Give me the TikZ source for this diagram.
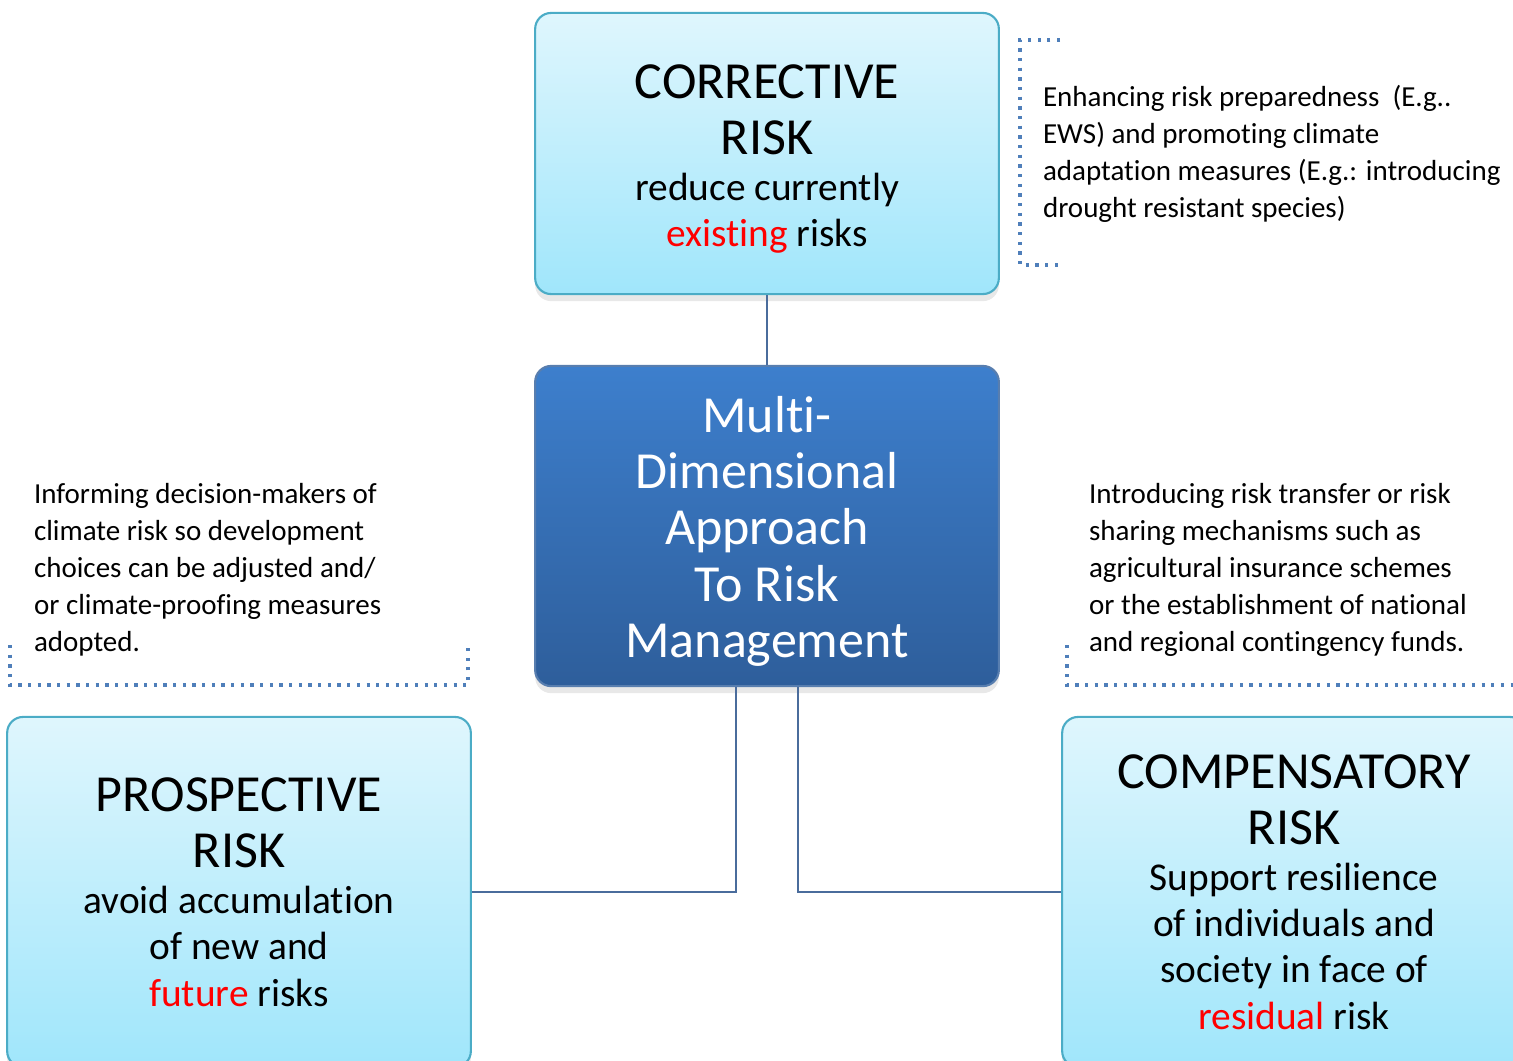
\documentclass[tikz,border=0pt]{standalone}
\usepackage{fontspec}
\setmainfont{Carlito}[Ligatures=NoCommon,Contextuals=NoAlternate,RawFeature={-liga;-clig}]
\usetikzlibrary{shadows}

\definecolor{paleCyan}{HTML}{DFF6FD}
\definecolor{skyCyan}{HTML}{A0E6FB}
\definecolor{edgeCyan}{HTML}{4BACC6}
\definecolor{topBlue}{HTML}{3D7FCD}
\definecolor{bottomBlue}{HTML}{2E5E9B}
\definecolor{linkBlue}{HTML}{4A6C9C}
\definecolor{dotBlue}{HTML}{4F7FBA}

\begin{document}
\begin{tikzpicture}[
                x=.01cm, y=-.01cm,
                line width=.6pt,
                riskbox/.style={draw=edgeCyan,top color=paleCyan,bottom color=skyCyan,rounded corners=.16cm,
                                minimum width=4.56cm,text width=4.4cm,align=flush center,text=black,
                                font=\fontsize{14.8}{16}\selectfont,
                                drop shadow={shadow xshift=0pt,shadow yshift=-2pt,opacity=.18}},
                hubbox/.style={draw=bottomBlue!80,top color=topBlue,bottom color=bottomBlue,rounded corners=.16cm,
                                minimum width=4.6cm,minimum height=3.2cm,text width=4.4cm,align=flush center,text=white,
                                font=\fontsize{14.8}{16}\selectfont,
                                drop shadow={shadow xshift=0pt,shadow yshift=-2pt,opacity=.18}},
                note/.style={align=left,inner sep=0pt,anchor=west,text=black,font=\fontsize{8.25}{10.5}\selectfont},
                link/.style={draw=linkBlue,line width=.6pt},
                dots/.style={draw=dotBlue,line width=.9pt,dash pattern=on .9pt off 1.85pt}]

\useasboundingbox (0,0) rectangle (1513,1060);
\clip (0,0) rectangle (1513,1060);

                    % corrective (top)
                    \node[riskbox,minimum height=2.81cm] (Corrective) at (767,153.5) {CORRECTIVE\\RISK\par
                    {\fontsize{11.2}{13.1}\selectfont reduce currently\\\textcolor{red}{existing} risks\par}\vspace{-3pt}};

                    % center
                    \node[hubbox] (Approach) at (767,526) {Multi-\\Dimensional\\Approach\\To Risk\\Management\par\vspace{-3pt}};

                    % prospective (left)
                    \node[riskbox,minimum height=3.5cm] (Prospective) at (239,892) {PROSPECTIVE\\RISK\par
                    {\fontsize{11.2}{13.1}\selectfont avoid accumulation\\of new and\\\textcolor{red}{future} risks\par}};

                    % compensatory (right)
                    \node[riskbox,minimum height=3.5cm] (Compensatory) at (1294,892) {COMPENSATORY\\RISK\par
                    {\fontsize{11.2}{13.1}\selectfont Support resilience\\of individuals and\\society in face of\\\textcolor{red}{residual} risk\par}};

                    \draw[link] (Corrective) -- (Approach);
                    \draw[link] ([xshift=-.31cm]Approach.south) |- (Prospective);
                    \draw[link] ([xshift=.31cm]Approach.south) |- (Compensatory);

 % notes
                    \node[note] (NoteCorrective) at (1042,154) {Enhancing risk preparedness\ \ (E.g..\\EWS) and promoting climate\\adaptation measures (E.g.: introducing\\drought resistant species)};
                    \draw[dots] (1060,40) -- (1020,40) -- (1020,265) -- (1060,265);

                    \node[note] (NoteProspective) at (33,570) {Informing decision-makers of\\climate risk so development\\choices can be adjusted and/\\or climate-proofing measures\\adopted.};
                    \draw[dots] (10,645) -- (10,685) -- (468,685) -- (468,645);

                    \node[note] (NoteCompensatory) at (1088,570) {Introducing risk transfer or risk\\sharing mechanisms such as\\agricultural insurance schemes\\or the establishment of national\\and regional contingency funds.};
                    \draw[dots] (1067,645) -- (1067,685) -- (1513,685);

\end{tikzpicture}
\end{document}
